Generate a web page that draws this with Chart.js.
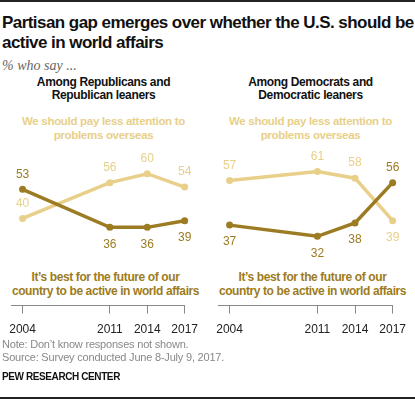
<!DOCTYPE html>
<html>
<head>
<meta charset="utf-8">
<script src="https://cdn.jsdelivr.net/npm/chart.js@4.4.1/dist/chart.umd.min.js"></script>
<style>
  body { margin: 0; background: #fff; }
  #wrap { position: relative; width: 415px; height: 399px; overflow: hidden; font-family: "Liberation Sans", Arial, sans-serif; }
  .abs { position: absolute; white-space: nowrap; }
  .rule { position: absolute; left: 0; width: 415px; height: 2px; background: #222; }
  #title { left: 2px; top: 13px; font-size: 17px; font-weight: bold; line-height: 20px; color: #111; letter-spacing: -0.55px; }
  #sub { left: 2px; top: 58px; font-size: 14px; font-style: italic; color: #666; font-family: "Liberation Serif", serif; }
  .ptitle { width: 207px; text-align: center; font-size: 12px; font-weight: bold; line-height: 13px; color: #111; letter-spacing: -0.35px; }
  .light { width: 207px; text-align: center; font-size: 11.5px; font-weight: bold; line-height: 14px; color: #e8d08a; letter-spacing: -0.3px; }
  .dark { width: 207px; text-align: center; font-size: 12px; font-weight: bold; line-height: 14px; color: #9c7c22; letter-spacing: -0.4px; }
  .note { left: 2px; font-size: 11px; color: #888; line-height: 13px; letter-spacing: -0.2px; }
  #pew { left: 2px; top: 371px; font-size: 10px; font-weight: bold; color: #111; letter-spacing: -0.4px; }
  canvas { position: absolute; }
</style>
</head>
<body>
<div id="wrap">
  <div class="rule" style="top:0"></div>
  <div id="title" class="abs">Partisan gap emerges over whether the U.S. should be<br>active in world affairs</div>
  <div id="sub" class="abs">% who say ...</div>

  <div class="abs ptitle" style="left:0; top:76px">Among Republicans and<br>Republican leaners</div>
  <div class="abs ptitle" style="left:207px; top:76px">Among Democrats and<br>Democratic leaners</div>

  <div class="abs light" style="left:0; top:114px">We should pay less attention to<br>problems overseas</div>
  <div class="abs light" style="left:207px; top:114px">We should pay less attention to<br>problems overseas</div>

  <div class="abs dark" style="left:2px; top:270px">It’s best for the future of our<br>country to be active in world affairs</div>
  <div class="abs dark" style="left:209px; top:270px">It’s best for the future of our<br>country to be active in world affairs</div>

  <div style="position:absolute; left:0; top:120px; width:207px; height:226px"><canvas id="repChart"></canvas></div>
  <div style="position:absolute; left:207px; top:120px; width:208px; height:226px"><canvas id="demChart"></canvas></div>

  <div class="abs note" style="top:338px">Note: Don’t know responses not shown.</div>
  <div class="abs note" style="top:351px">Source: Survey conducted June 8-July 9, 2017.</div>
  <div id="pew" class="abs">PEW RESEARCH CENTER</div>
  <div class="rule" style="top:397px"></div>
</div>

<script>
'use strict';

//data
var years = [2004, 2011, 2014, 2017]
var repLessAttention = [40, 56, 60, 54]
var repActive = [53, 36, 36, 39]
var demLessAttention = [57, 61, 58, 39]
var demActive = [37, 32, 38, 56]

//which side of the point each value label goes
var repLabelSide = { active: ['up', 'down', 'down', 'down'], less: ['up', 'up', 'up', 'up'] }
var demLabelSide = { active: ['down', 'down', 'down', 'up'], less: ['up', 'up', 'up', 'down'] }

var darkGold = '#9c7c22'
var lightGold = '#e8d08a'

function toPoints(values) {
    return values.map((v, i) => ({ x: years[i], y: v }))
}

var valueLabels = {
    id: 'valueLabels',
    afterDatasetsDraw(chart) {
        let ctx = chart.ctx
        ctx.save()
        ctx.font = '12px "Liberation Sans", Arial, sans-serif'
        ctx.textAlign = 'center'
        ctx.textBaseline = 'middle'
        chart.data.datasets.forEach((ds, i) => {
            let meta = chart.getDatasetMeta(i)
            meta.data.forEach((pt, j) => {
                let up = ds.labelSide[j] == 'up'
                ctx.fillStyle = ds.borderColor
                ctx.fillText(ds.data[j].y, pt.x, up ? pt.y - 15 : pt.y + 17)
            })
        })
        ctx.restore()
    }
}

function makeConfig(active, less, sides) {
    return {
        type: 'line',
        data: {
            datasets: [
                { data: toPoints(active), borderColor: darkGold, backgroundColor: darkGold, labelSide: sides.active },
                { data: toPoints(less), borderColor: lightGold, backgroundColor: lightGold, labelSide: sides.less }
            ]
        },
        options: {
            responsive: true,
            maintainAspectRatio: false,
            animation: false,
            clip: false,
            layout: { padding: { left: 10, right: 16, top: 9, bottom: 0 } },
            elements: {
                line: { borderWidth: 3.5, tension: 0 },
                point: { radius: 3.5, borderWidth: 0, hoverRadius: 3.5 }
            },
            plugins: { legend: { display: false }, tooltip: { enabled: false } },
            scales: {
                x: {
                    type: 'linear',
                    min: 2003.08,
                    max: 2017,
                    afterBuildTicks: (scale) => { scale.ticks = years.map(v => ({ value: v })) },
                    grid: { drawOnChartArea: false, drawTicks: true, tickLength: 8, color: '#888' },
                    border: { display: true, color: '#888', width: 1 },
                    ticks: {
                        autoSkip: false,
                        maxRotation: 0,
                        padding: 9,
                        color: '#222',
                        font: { size: 12, family: '"Liberation Sans", Arial, sans-serif' },
                        callback: (v) => String(v)
                    }
                },
                y: { display: false, min: 1, max: 80 }
            }
        },
        plugins: [valueLabels]
    }
}

new Chart(document.getElementById('repChart'), makeConfig(repActive, repLessAttention, repLabelSide))
new Chart(document.getElementById('demChart'), makeConfig(demActive, demLessAttention, demLabelSide))
</script>
</body>
</html>
